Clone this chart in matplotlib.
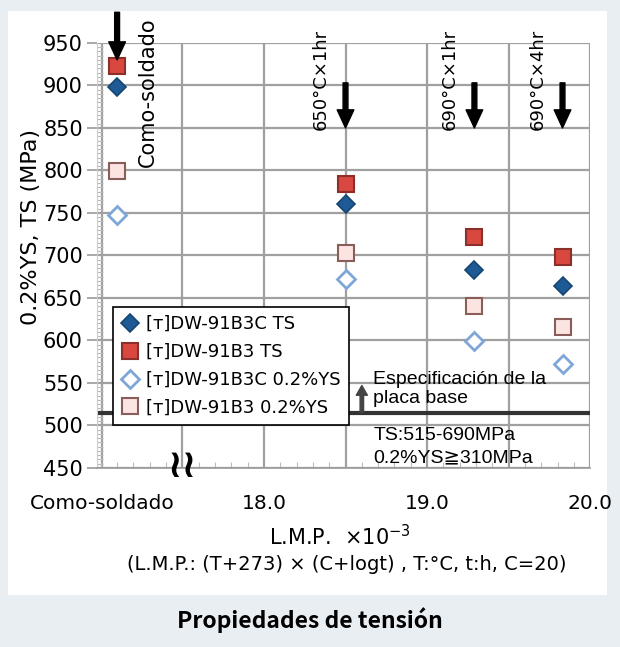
import matplotlib.pyplot as plt
from matplotlib.patches import Rectangle
from matplotlib.ticker import MultipleLocator

# --- data ---
conditions = ['Como-soldado', '650°C×1hr', '690°C×1hr', '690°C×4hr']
lmp = [17.10, 18.50, 19.29, 19.83]          # "Como-soldado" placed left of the break
b3c_ts = [898, 760, 683, 664]
b3_ts = [923, 784, 722, 698]
b3c_ys = [748, 672, 599, 572]
b3_ys = [799, 703, 640, 616]
spec_ts_min = 515

xtick_pos = [17.01, 17.5, 18.0, 18.5, 19.0, 19.5, 20.0]
xtick_lab = ['Como-soldado', '', '18.0', '', '19.0', '', '20.0']

plt.rcParams['font.family'] = ['DejaVu Sans']

fig = plt.figure(figsize=(6.2, 6.47), dpi=100)
fig.patch.set_facecolor('#e9eef2')
fig.patches.append(Rectangle((8/620, 1-595/647), 599/620, 584/647,
                             transform=fig.transFigure, facecolor='white',
                             edgecolor='none', zorder=-5))

ax = fig.add_axes([0.156, 0.2767, 0.796, 0.657])
ax.set_xlim(16.975, 20.0)
ax.set_ylim(450, 950)

ax.set_xticks(xtick_pos)
ax.set_xticklabels(xtick_lab)
ax.xaxis.get_major_ticks()[0].gridline.set_visible(False)
ax.set_yticks(range(450, 951, 50))
ax.yaxis.set_minor_locator(MultipleLocator(5))
ax.xaxis.set_minor_locator(MultipleLocator(0.1))
ax.grid(True, which='major', color='#a0a0a0', lw=1.6, zorder=1)
ax.tick_params(axis='y', which='major', length=7, width=1.2, color='#999999',
               labelsize=15, pad=3)
ax.tick_params(axis='x', which='major', length=0, labelsize=14.5, pad=19)
ax.tick_params(which='minor', direction='in', length=4, width=0.8, color='#bbbbbb')
for s in ['top', 'right']:
    ax.spines[s].set_visible(False)
ax.spines['left'].set_color('#cccccc')
ax.spines['bottom'].set_color('#999999')
ax.spines['bottom'].set_linewidth(1.2)

# base plate specification
ax.axhline(spec_ts_min, color='#333333', lw=3, zorder=2)
ax.annotate('', xy=(18.60, 547), xytext=(18.60, spec_ts_min),
            arrowprops=dict(width=2.5, headwidth=8, headlength=7,
                            facecolor='#444444', edgecolor='#444444'), zorder=3)
ax.text(18.67, 543, 'Especificación de la\nplaca base', fontsize=14,
        family=['Liberation Sans', 'DejaVu Sans'], ha='left', va='center',
        linespacing=1.2, zorder=4)
ax.text(18.67, 475, 'TS:515-690MPa\n0.2%YS≧310MPa', fontsize=14,
        family=['Liberation Sans', 'DejaVu Sans'], ha='left', va='center',
        linespacing=1.35, zorder=4)

# series
ax.plot(lmp, b3c_ts, ls='none', marker='D', ms=9, mfc='#1d5a96', mec='#17466f',
        mew=1.2, label='[ᴛ]DW-91B3C TS', zorder=5)
ax.plot(lmp, b3_ts, ls='none', marker='s', ms=12, mfc='#d9483f', mec='#8c2e2a',
        mew=1.5, label='[ᴛ]DW-91B3 TS', zorder=5)
ax.plot(lmp, b3c_ys, ls='none', marker='D', ms=9, mfc='white', mec='#7ea6d6',
        mew=2, label='[ᴛ]DW-91B3C 0.2%YS', zorder=5)
ax.plot(lmp, b3_ys, ls='none', marker='s', ms=12, mfc='#fbe4e2', mec='#8a5d58',
        mew=1.5, label='[ᴛ]DW-91B3 0.2%YS', zorder=5)

leg = ax.legend(loc='upper left', bbox_to_anchor=(0.032, 0.379), fontsize=13,
                frameon=True, fancybox=False, framealpha=1, edgecolor='black',
                handletextpad=0.4, labelspacing=0.55, borderpad=0.45,
                handlelength=1.0, borderaxespad=0)
leg.get_frame().set_linewidth(1.2)
leg.set_zorder(6)

# heat-treatment arrows and labels
arrow_top = [986, 903, 903, 903]
arrow_tip = [930, 850, 850, 850]
for i, c in enumerate(conditions):
    ax.annotate('', xy=(lmp[i], arrow_tip[i]), xytext=(lmp[i], arrow_top[i]),
                arrowprops=dict(width=3.5, headwidth=12, headlength=13,
                                facecolor='black', edgecolor='black'),
                annotation_clip=False, zorder=7)
ax.text(17.29, 804, conditions[0], rotation=90, ha='center', va='bottom',
        fontsize=15, clip_on=False)
for i in range(1, 4):
    ax.text(lmp[i] - 0.15, 847, conditions[i], rotation=90, ha='center',
            va='bottom', fontsize=13, clip_on=False)

# axis break mark
ax.text(17.5, 452, '≀≀', ha='center', va='center', fontsize=28,
        fontweight='bold', zorder=8, clip_on=False)

ax.set_ylabel('0.2%YS, TS (MPa)', fontsize=16)
ax.yaxis.set_label_coords(-0.112, 0.567)
fig.text(0.548, 0.170, 'L.M.P.  ×10$^{-3}$', ha='center', va='center', fontsize=15)
fig.text(0.56, 0.127, '(L.M.P.: (T+273) × (C+logt) , T:°C, t:h, C=20)',
         ha='center', va='center', fontsize=14)
fig.text(0.5, 0.041, 'Propiedades de tensión', ha='center', va='center',
         fontsize=16.5, fontweight='bold', family=['Noto Sans CJK JP', 'DejaVu Sans'])

fig.savefig('out.png', dpi=100, facecolor=fig.get_facecolor())
